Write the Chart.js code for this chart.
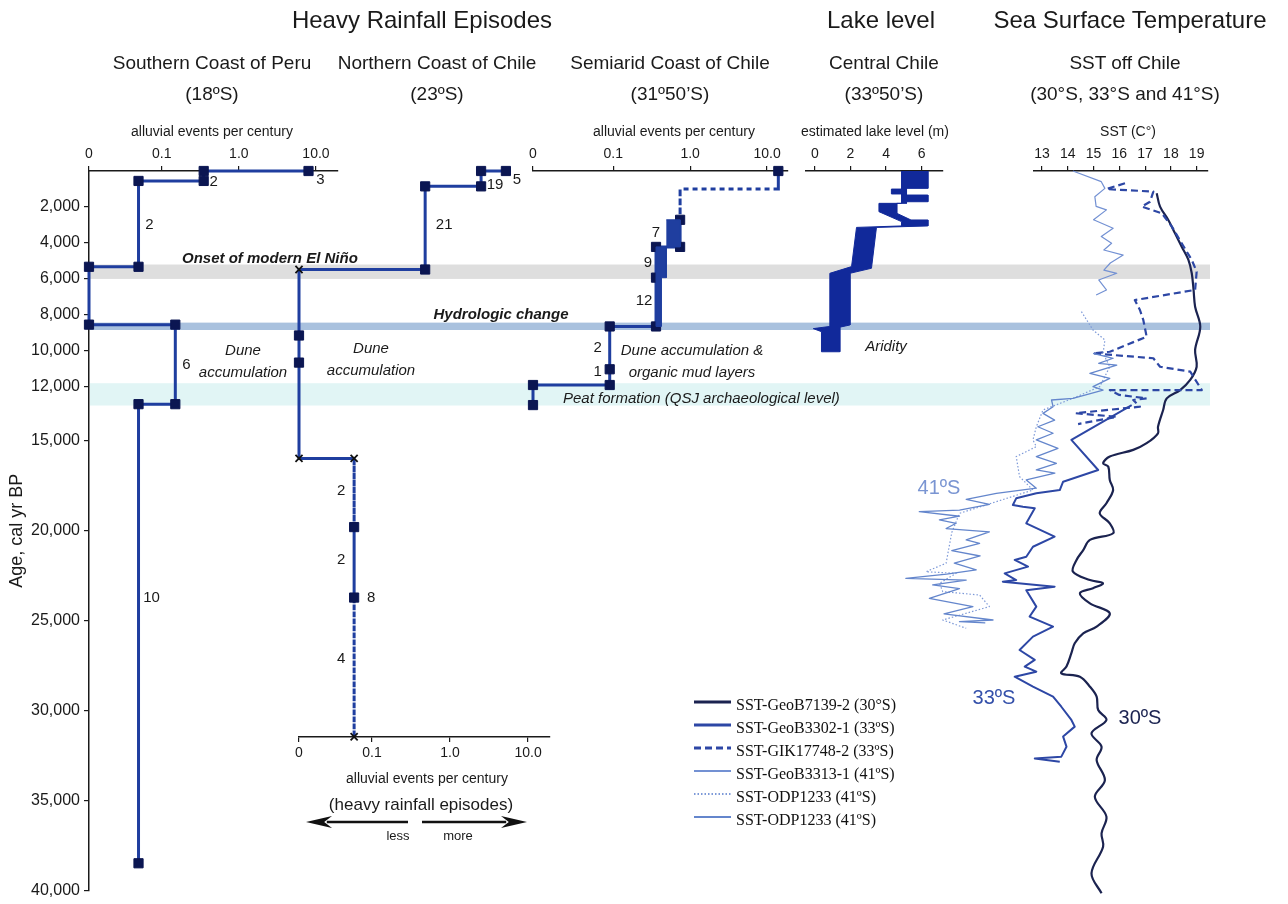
<!DOCTYPE html>
<html lang="en">
<head>
<meta charset="utf-8">
<title>Heavy rainfall episodes, lake level and SST off Chile</title>
<script src="https://cdn.jsdelivr.net/npm/chart.js@4.4.1/dist/chart.umd.min.js"></script>
<style>
  html, body { margin: 0; padding: 0; background: #fff; }
  #fig { position: relative; width: 1288px; height: 904px; overflow: hidden;
         font-family: "Liberation Sans", Arial, sans-serif; color: #1a1a1a; }
  #fig canvas { position: absolute; left: 0; top: 0; }
  #txt { position: absolute; left: 0; top: 0; width: 1288px; height: 904px; pointer-events: none; }
  #txt div { position: absolute; white-space: nowrap; transform: translate(-50%, -50%); line-height: 1; }
  #txt div.l { transform: translate(0, -50%); }
  .h1 { font-size: 24px; }
  .h2 { font-size: 19px; }
  .ax { font-size: 14px; }
  .it { font-size: 15px; font-style: italic; }
  .bi { font-size: 15px; font-style: italic; font-weight: bold; }
  .lat { font-size: 20px; }
</style>
</head>
<body>
<div id="fig">
  <canvas id="base" width="1288" height="904"></canvas>
  <canvas id="peru" width="1288" height="904"></canvas>
  <canvas id="nchile" width="1288" height="904"></canvas>
  <canvas id="semiarid" width="1288" height="904"></canvas>
  <canvas id="lake" width="1288" height="904"></canvas>
  <canvas id="sst" width="1288" height="904"></canvas>

  <div id="txt">
    <div class="h1" style="left:422px;top:20px">Heavy Rainfall Episodes</div>
    <div class="h1" style="left:881px;top:20px">Lake level</div>
    <div class="h1" style="left:1130px;top:20px">Sea Surface Temperature</div>

    <div class="h2" style="left:212px;top:62px">Southern Coast of Peru</div>
    <div class="h2" style="left:212px;top:93px">(18ºS)</div>
    <div class="h2" style="left:437px;top:62px">Northern Coast of Chile</div>
    <div class="h2" style="left:437px;top:93px">(23ºS)</div>
    <div class="h2" style="left:670px;top:62px">Semiarid Coast of Chile</div>
    <div class="h2" style="left:670px;top:93px">(31º50’S)</div>
    <div class="h2" style="left:884px;top:62px">Central Chile</div>
    <div class="h2" style="left:884px;top:93px">(33º50’S)</div>
    <div class="h2" style="left:1125px;top:62px">SST off Chile</div>
    <div class="h2" style="left:1125px;top:93px">(30°S, 33°S and 41°S)</div>

    <div class="ax" style="left:212px;top:131px">alluvial events per century</div>
    <div class="ax" style="left:674px;top:131px">alluvial events per century</div>
    <div class="ax" style="left:875px;top:131px">estimated lake level (m)</div>
    <div class="ax" style="left:1128px;top:131px">SST (C°)</div>
    <div class="ax" style="left:427px;top:778px">alluvial events per century</div>
    <div style="left:421px;top:804px;font-size:17px">(heavy rainfall episodes)</div>
    <div style="left:398px;top:835px;font-size:13px">less</div>
    <div style="left:458px;top:835px;font-size:13px">more</div>

    <div class="bi l" style="left:182px;top:257px">Onset of modern El Niño</div>
    <div class="bi" style="left:501px;top:313px">Hydrologic change</div>
    <div class="it" style="left:243px;top:349px">Dune</div>
    <div class="it" style="left:243px;top:371px">accumulation</div>
    <div class="it" style="left:371px;top:347px">Dune</div>
    <div class="it" style="left:371px;top:369px">accumulation</div>
    <div class="it" style="left:692px;top:349px">Dune accumulation &amp;</div>
    <div class="it" style="left:692px;top:371px">organic mud layers</div>
    <div class="it l" style="left:563px;top:397px">Peat formation (QSJ archaeological level)</div>
    <div class="it" style="left:886px;top:345px">Aridity</div>

    <div class="lat" style="left:939px;top:487px;color:#7a95d2">41ºS</div>
    <div class="lat" style="left:994px;top:697px;color:#3450aa">33ºS</div>
    <div class="lat" style="left:1140px;top:717px;color:#1b2350">30ºS</div>
  </div>
</div>

<script>
Chart.defaults.font.family = '"Liberation Sans", Arial, sans-serif';
Chart.defaults.color = '#1a1a1a';

const W = 1288, H = 904;
const PLOT_TOP = 171, PLOT_BOTTOM = 894;   // rows of 0 and 40,000 cal yr BP
const INK = '#1a1a1a';
const STEP_LINE = '#1f3e9f', STEP_MARK = '#0b1652';

// ---------------- shared age axis (cal yr BP) ----------------
const AGE_MIN = 0, AGE_MAX = 40000;
const AGE_TICKS = [2000, 4000, 6000, 8000, 10000, 12000, 15000, 20000, 25000, 30000, 35000, 40000];

// background bands: Onset of modern El Niño, Hydrologic change, Peat formation
const BAND_FROM = [5200, 8430, 11800];
const BAND_TO = [6000, 8840, 13040];
const BAND_COLORS = ['#dedede', '#a9c1de', '#e1f5f5'];

// ---------------- alluvial events per century (log axes) ----------------
const RATE_TICKS = [0, 0.1, 1, 10];
const RATE_TICK_LABELS = ['0', '0.1', '1.0', '10.0'];

// Southern Coast of Peru (18ºS)
const PERU_RATE = [8, 0.35, 0.35, 0.05, 0.05, 0, 0, 0.15, 0.15, 0.05, 0.05];
const PERU_AGE = [0, 0, 550, 550, 5300, 5300, 8500, 8500, 12900, 12900, 38300];
const PERU_MARK = ['s', 's', 's', 's', 's', 's', 's', 's', 's', 's', 's'];
const PERU_DASHED = [];
const PERU_NUM = ['3', '2', '2', '6', '10'];
const PERU_NUM_RATE = [8, 0.35, 0.05, 0.15, 0.05];
const PERU_NUM_AGE = [500, 600, 3000, 10700, 23600];
const PERU_NUM_DX = [12, 10, 11, 11, 13];

// Northern Coast of Chile (23ºS)
const NCH_RATE = [5.2, 2.5, 2.5, 0.48, 0.48, 0, 0, 0, 0, 0.059, 0.059, 0.059, 0.059];
const NCH_AGE = [0, 0, 850, 850, 5450, 5450, 9100, 10600, 15900, 15900, 19700, 23600, 31300];
const NCH_MARK = ['s', 's', 's', 's', 's', 'x', 's', 's', 'x', 'x', 's', 's', 'x'];
const NCH_DASHED = [9, 11];
const NCH_NUM = ['5', '19', '21', '2', '2', '8', '4'];
const NCH_NUM_RATE = [5.2, 2.5, 0.48, 0.059, 0.059, 0.059, 0.059];
const NCH_NUM_AGE = [500, 750, 3000, 17700, 21500, 23600, 27000];
const NCH_NUM_DX = [11, 14, 19, -13, -13, 17, -13];

// Semiarid Coast of Chile (31º50'S)
const SEM_RATE = [14, 14, 0.74, 0.74, 0.74, 0.36, 0.36, 0.36, 0.09, 0.09, 0.09, 0, 0];
const SEM_AGE = [0, 1000, 1000, 2700, 4200, 4200, 5900, 8600, 8600, 10970, 11840, 11840, 12950];
const SEM_MARK = ['s', '', '', 's', 's', 's', 's', 's', 's', 's', 's', 's', 's'];
const SEM_DASHED = [0, 1, 2];
const SEM_RANGE_RATE = [0.49, 0.74, 0.74, 0.49, 0.49, 0.42, 0.42, 0.36, 0.36, 0.49];
const SEM_RANGE_AGE = [2700, 2700, 4200, 4200, 5900, 5900, 8600, 8600, 4200, 4200];
const SEM_NUM = ['7', '9', '12', '2', '1'];
const SEM_NUM_RATE = [0.36, 0.36, 0.36, 0.09, 0.09];
const SEM_NUM_AGE = [3450, 5100, 7200, 9800, 11100];
const SEM_NUM_DX = [0, -8, -12, -12, -12];

// ---------------- Central Chile, estimated lake level (m), outline of the range ----------------
const LAKE_TICKS = [0, 2, 4, 6];
const LAKE_LEVEL = [6.35, 6.35, 5.15, 5.15, 6.35, 6.35, 5.15, 5.15, 4.6, 4.6, 5.4, 6.35, 6.35, 3.46, 3.18, 1.97,
  1.97, 1.4, 1.4, 0.37, 0.37, -0.09, 0.84, 0.84, 2.06, 2.34, 4.87, 4.87, 3.6, 3.6, 4.87, 4.87, 4.3, 4.3, 4.87, 4.87];
const LAKE_AGE = [0, 960, 960, 1330, 1330, 1700, 1700, 1790, 1790, 2340, 2710, 2710, 3040, 3120, 5380, 5660,
  8520, 8640, 10000, 10000, 8890, 8720, 8600, 5660, 5290, 3120, 3040, 2800, 2250, 1790, 1790, 1270, 1270, 1000, 1000, 0];

// ---------------- SST off Chile (°C) ----------------
const SST_TICKS = [13, 14, 15, 16, 17, 18, 19];

// SST-GeoB7139-2 (30°S)
const GEOB7139_AGE = [1230, 1970, 2710, 3450, 4190, 4920, 5660, 6580, 7510, 8610, 9900, 10830, 11560, 12120, 12580,
  13220, 14150, 14510, 15060, 15430, 15800, 16170, 16350, 17090, 17650, 18380, 18940, 19490, 20040, 20410, 20970,
  21520, 22170, 22630, 22810, 23080, 23360, 23920, 24470, 25210, 25580, 26130, 26680, 27420, 27790, 27980, 28530,
  29080, 29820, 30370, 31110, 31850, 32590, 33700, 34620, 35720, 36640, 37380, 38860, 39960];
const GEOB7139_SST = [17.45, 17.58, 17.9, 18.16, 18.42, 18.68, 18.81, 18.88, 18.94, 19.14, 18.94, 19.0, 18.75, 18.36,
  17.84, 17.7, 17.5, 17.5, 17.06, 16.54, 15.63, 15.37, 15.57, 15.63, 15.76, 15.5, 15.24, 15.63, 15.76, 14.86, 14.6,
  14.34, 14.2, 14.86, 15.37, 14.98, 14.47, 14.86, 15.63, 15.12, 14.6, 14.27, 14.14, 13.95, 13.75, 14.47, 14.86,
  15.12, 15.18, 15.5, 14.92, 15.31, 15.12, 15.44, 15.05, 15.5, 15.31, 15.37, 14.92, 15.31];

// SST-GeoB3302-1 (33ºS)
const GEOB3302_AGE = [12950, 14880, 16540, 17190, 17650, 17830, 18110, 18480, 18570, 18660, 19490, 20230, 20790,
  21340, 21520, 21890, 22260, 22630, 22720, 23000, 23190, 24100, 24650, 25210, 25760, 26500, 27050, 27420, 27700,
  27980, 28530, 29080, 29640, 30370, 30740, 31290, 31850, 32400, 32500, 32680];
const GEOB3302_SST = [16.48, 14.14, 15.18, 13.82, 13.69, 12.78, 12.0, 11.87, 12.26, 12.72, 12.39, 13.49, 12.65,
  12.39, 11.94, 12.46, 11.55, 12.0, 11.48, 13.49, 12.39, 12.78, 12.52, 13.43, 12.65, 12.13, 12.72, 12.33, 12.78,
  11.94, 12.65, 13.43, 13.75, 14.14, 14.27, 13.82, 13.95, 13.75, 12.72, 13.69];

// SST-GIK17748-2 (33ºS)
const GIK17748_AGE = [680, 1000, 1140, 1700, 1970, 2340, 3080, 4000, 4920, 5570, 6580, 7140, 7690, 8240, 9170,
  10000, 10090, 10360, 10830, 11100, 12120, 12120, 12390, 12580, 12670, 13040, 13400, 13600, 14000];
const GIK17748_SST = [16.22, 15.5, 17.32, 17.19, 16.87, 17.65, 18.04, 18.42, 18.81, 19.0, 18.94, 16.6, 16.8, 16.93,
  17.06, 15.63, 14.98, 17.32, 17.58, 18.75, 19.2, 15.63, 16.0, 17.06, 16.54, 16.8, 14.3, 15.9, 14.4];

// SST-GeoB3313-1 (41ºS)
const GEOB3313_AGE = [0, 590, 960, 1420, 1960, 2150, 2700, 3170, 3630, 4000, 4370, 4650, 5090, 5480, 5660, 6030, 6580, 6860];
const GEOB3313_SST = [14.2, 15.3, 15.44, 15.05, 15.1, 15.5, 15.0, 15.76, 15.3, 15.7, 15.4, 16.15, 15.65, 15.4, 15.9, 15.2, 15.5, 15.1];

// SST-ODP1233 (41ºS), dotted record
const ODP_DOT_AGE = [7780, 8800, 9350, 10090, 10830, 11930, 12580, 13220, 14150, 14880, 15250, 15800, 16910, 17280,
  17650, 18940, 20000, 21700, 22170, 22260, 22810, 23270, 23460, 24100, 24840, 25300];
const ODP_DOT_SST = [14.53, 14.98, 15.44, 15.37, 15.63, 15.24, 14.2, 13.04, 12.78, 12.65, 12.78, 12.0, 12.13, 12.39,
  12.65, 9.8, 9.5, 9.28, 8.5, 9.67, 9.02, 9.15, 10.58, 10.96, 9.15, 10.06];

// SST-ODP1233 (41ºS), solid record
const ODP_AGE = [10090, 10360, 10640, 10740, 11200, 11470, 11930, 12120, 12580, 12670, 13040, 13410, 13780, 14150,
  14510, 14880, 15340, 15800, 16170, 16540, 16720, 17090, 17550, 17830, 18170, 18450, 18760, 18850, 19100, 19300,
  19490, 19780, 19960, 20410, 20600, 21000, 21300, 21700, 22070, 22300, 22540, 22630, 22900, 23100, 23640, 24100,
  24500, 24840, 24930, 25000];
const ODP_SST = [14.98, 15.76, 15.2, 15.9, 14.86, 15.63, 14.98, 15.37, 14.2, 13.37, 13.43, 13.04, 13.49, 12.84,
  13.43, 12.78, 13.62, 12.78, 13.56, 12.78, 13.5, 12.39, 12.78, 11.23, 10.06, 10.96, 9.8, 8.24, 9.8, 9.02, 9.67,
  9.28, 10.96, 10.06, 10.58, 9.5, 10.6, 9.6, 10.45, 9.3, 7.72, 10.06, 8.76, 9.8, 8.63, 10.32, 9.2, 11.1, 9.8, 10.8];

// ---------------- plugins ----------------
const bandsPlugin = {
  id: 'bands',
  beforeDatasetsDraw(chart) {
    const { ctx, chartArea: a, scales: { y } } = chart;
    ctx.save();
    BAND_FROM.forEach((from, i) => {
      const y0 = y.getPixelForValue(from), y1 = y.getPixelForValue(BAND_TO[i]);
      ctx.fillStyle = BAND_COLORS[i];
      ctx.fillRect(a.left + 1, y0, a.right - a.left - 1, y1 - y0);
    });
    ctx.restore();
  }
};

// less / more arrows under the Northern Chile axis
function arrow(ctx, x0, x1, y) {
  const dir = Math.sign(x1 - x0), head = 26;
  ctx.lineWidth = 2.5;
  ctx.beginPath(); ctx.moveTo(x0, y); ctx.lineTo(x1 - dir * head * 0.8, y); ctx.stroke();
  ctx.beginPath();
  ctx.moveTo(x1, y);
  ctx.lineTo(x1 - dir * head, y - 6);
  ctx.lineTo(x1 - dir * head * 0.7, y);
  ctx.lineTo(x1 - dir * head, y + 6);
  ctx.closePath(); ctx.fill();
}
const arrowsPlugin = {
  id: 'arrows',
  afterDraw(chart) {
    const ctx = chart.ctx;
    ctx.save();
    ctx.strokeStyle = '#111'; ctx.fillStyle = '#111';
    arrow(ctx, 408, 306, 822);
    arrow(ctx, 422, 527, 822);
    ctx.restore();
  }
};

function numberLabels(text, rate, age, dx, zero) {
  return {
    id: 'numLabels',
    afterDatasetsDraw(chart) {
      const { ctx, scales: { x, y } } = chart;
      ctx.save();
      ctx.font = '15px "Liberation Sans", Arial, sans-serif';
      ctx.fillStyle = INK;
      ctx.textAlign = 'center';
      ctx.textBaseline = 'middle';
      text.forEach((t, i) => {
        ctx.fillText(t, x.getPixelForValue(rate[i] === 0 ? zero : rate[i]) + dx[i], y.getPixelForValue(age[i]));
      });
      ctx.restore();
    }
  };
}

// ---------------- helpers ----------------
function ageAxis(max) {
  return { type: 'linear', min: AGE_MIN, max: max, reverse: true, display: false };
}

function tickAxisCommon() {
  return {
    grid: { drawOnChartArea: false, tickLength: 5, color: INK, lineWidth: 1.2 },
    border: { color: INK, width: 1.5 }
  };
}

function logAxis(zero, max, position) {
  return Object.assign(tickAxisCommon(), {
    type: 'logarithmic', position, min: zero, max,
    afterBuildTicks: s => { s.ticks = RATE_TICKS.map(v => ({ value: v === 0 ? zero : v })); },
    afterFit: s => { s.height = 30; },
    ticks: { callback: (v, i) => RATE_TICK_LABELS[i], font: { size: 14 }, padding: 3, color: INK, maxRotation: 0, autoSkip: false }
  });
}

function linAxis(min, max, ticks) {
  return Object.assign(tickAxisCommon(), {
    type: 'linear', position: 'top', min, max,
    afterBuildTicks: s => { s.ticks = ticks.map(v => ({ value: v })); },
    afterFit: s => { s.height = 30; },
    ticks: { font: { size: 14 }, padding: 3, color: INK, maxRotation: 0, autoSkip: false }
  });
}

function panelOptions(left, right, top, bottom, xAxis, yMax) {
  return {
    responsive: false, animation: false,
    layout: { padding: { left, right: W - right, top, bottom } },
    plugins: { legend: { display: false }, tooltip: { enabled: false } },
    scales: { x: xAxis, y: ageAxis(yMax) }
  };
}

function stepLine(rate, age, mark, dashed, zero, dash) {
  return {
    data: rate.map((r, i) => ({ x: r === 0 ? zero : r, y: age[i] })),
    showLine: true, clip: false,
    borderColor: STEP_LINE, borderWidth: 3, borderJoinStyle: 'miter',
    pointStyle: mark.map(m => (m === 'x' ? 'crossRot' : 'rect')),
    pointRadius: mark.map(m => (m === 's' ? 6.5 : m === 'x' ? 5 : 0)),
    pointBackgroundColor: STEP_MARK,
    pointBorderColor: mark.map(m => (m === 'x' ? '#111' : STEP_MARK)),
    pointBorderWidth: mark.map(m => (m === 'x' ? 1.8 : 1)),
    segment: { borderDash: c => (dashed.includes(c.p0DataIndex) ? dash : undefined) }
  };
}

function shape(xs, ys, color) {
  return {
    data: xs.map((v, i) => ({ x: v, y: ys[i] })),
    showLine: true, fill: 'shape', clip: false,
    backgroundColor: color, borderColor: color, borderWidth: 1, pointRadius: 0
  };
}

function sstLine(label, age, temp, color, width, dash, tension) {
  return {
    label, data: age.map((a, i) => ({ x: temp[i], y: a })),
    showLine: true, clip: false, borderColor: color, borderWidth: width, borderDash: dash,
    tension, pointRadius: 0, borderJoinStyle: 'round'
  };
}

// ---------------- base: age axis and bands ----------------
new Chart(document.getElementById('base'), {
  type: 'scatter',
  data: { datasets: [] },
  options: {
    responsive: false, animation: false,
    layout: { padding: { left: 0, right: W - 1210, top: PLOT_TOP, bottom: H - PLOT_BOTTOM } },
    plugins: { legend: { display: false }, tooltip: { enabled: false } },
    scales: {
      x: { display: false, min: 0, max: 1 },
      y: Object.assign(tickAxisCommon(), {
        min: AGE_MIN, max: AGE_MAX, reverse: true,
        afterFit: s => { s.width = 89; },
        afterBuildTicks: s => { s.ticks = AGE_TICKS.map(v => ({ value: v })); },
        ticks: { font: { size: 16 }, padding: 4, color: INK, callback: v => v.toLocaleString('en-US') },
        title: { display: true, text: 'Age, cal yr BP', font: { size: 18 }, color: INK, padding: { top: 6, bottom: 0 } }
      })
    }
  },
  plugins: [bandsPlugin, arrowsPlugin]
});

// ---------------- Southern Coast of Peru ----------------
const PERU_ZERO = 0.0114;
new Chart(document.getElementById('peru'), {
  type: 'scatter',
  data: { datasets: [stepLine(PERU_RATE, PERU_AGE, PERU_MARK, PERU_DASHED, PERU_ZERO, [4, 3])] },
  options: panelOptions(89, 338, PLOT_TOP - 30, H - PLOT_BOTTOM, logAxis(PERU_ZERO, 19.3, 'top'), AGE_MAX),
  plugins: [numberLabels(PERU_NUM, PERU_NUM_RATE, PERU_NUM_AGE, PERU_NUM_DX, PERU_ZERO)]
});

// ---------------- Northern Coast of Chile (axis at the bottom) ----------------
const NCH_ZERO = 0.0116;
const NCH_AXIS_ROW = 737;
const NCH_AGE_MAX = AGE_MAX * (NCH_AXIS_ROW - PLOT_TOP) / (PLOT_BOTTOM - PLOT_TOP);
new Chart(document.getElementById('nchile'), {
  type: 'scatter',
  data: { datasets: [stepLine(NCH_RATE, NCH_AGE, NCH_MARK, NCH_DASHED, NCH_ZERO, [4, 3])] },
  options: panelOptions(299, 550, PLOT_TOP, H - NCH_AXIS_ROW - 30, logAxis(NCH_ZERO, 19.1, 'bottom'), NCH_AGE_MAX),
  plugins: [numberLabels(NCH_NUM, NCH_NUM_RATE, NCH_NUM_AGE, NCH_NUM_DX, NCH_ZERO)]
});

// ---------------- Semiarid Coast of Chile ----------------
const SEM_ZERO = 0.00906;
new Chart(document.getElementById('semiarid'), {
  type: 'scatter',
  data: {
    datasets: [
      shape(SEM_RANGE_RATE, SEM_RANGE_AGE, STEP_LINE),
      stepLine(SEM_RATE, SEM_AGE, SEM_MARK, SEM_DASHED, SEM_ZERO, [5, 4])
    ]
  },
  options: panelOptions(533, 788, PLOT_TOP - 30, H - PLOT_BOTTOM, logAxis(SEM_ZERO, 18.7, 'top'), AGE_MAX),
  plugins: [numberLabels(SEM_NUM, SEM_NUM_RATE, SEM_NUM_AGE, SEM_NUM_DX, SEM_ZERO)]
});

// ---------------- Central Chile lake level ----------------
new Chart(document.getElementById('lake'), {
  type: 'scatter',
  data: { datasets: [shape(LAKE_LEVEL, LAKE_AGE, '#11299a')] },
  options: panelOptions(806, 943, PLOT_TOP - 30, H - PLOT_BOTTOM, linAxis(-0.5, 7.2, LAKE_TICKS), AGE_MAX)
});

// ---------------- SST off Chile ----------------
const LEGEND_ORDER = [5, 4, 3, 2, 1, 0];
const sstLegend = {
  id: 'sstLegend',
  afterDatasetsDraw(chart) {
    const ctx = chart.ctx;
    ctx.save();
    ctx.font = '16px "Liberation Serif", "Times New Roman", serif';
    ctx.textBaseline = 'middle';
    ctx.fillStyle = '#111';
    LEGEND_ORDER.forEach((di, r) => {
      const ds = chart.data.datasets[di];
      const y = 702 + r * 23;
      ctx.strokeStyle = ds.borderColor;
      ctx.lineWidth = ds.borderWidth + 0.8;
      ctx.setLineDash(ds.borderDash || []);
      ctx.beginPath(); ctx.moveTo(694, y); ctx.lineTo(731, y); ctx.stroke();
      ctx.setLineDash([]);
      ctx.fillText(ds.label, 736, y + 4);
    });
    ctx.restore();
  }
};

new Chart(document.getElementById('sst'), {
  type: 'scatter',
  data: {
    datasets: [
      sstLine('SST-ODP1233 (41ºS)', ODP_AGE, ODP_SST, '#6486cc', 1.3, [], 0),
      sstLine('SST-ODP1233 (41ºS)', ODP_DOT_AGE, ODP_DOT_SST, '#7d99d8', 1.2, [1.5, 2], 0),
      sstLine('SST-GeoB3313-1 (41ºS)', GEOB3313_AGE, GEOB3313_SST, '#7391d3', 1.2, [], 0),
      sstLine('SST-GIK17748-2 (33ºS)', GIK17748_AGE, GIK17748_SST, '#2d47a5', 2.2, [7, 4], 0),
      sstLine('SST-GeoB3302-1 (33ºS)', GEOB3302_AGE, GEOB3302_SST, '#2d47a5', 2, [], 0),
      sstLine('SST-GeoB7139-2 (30°S)', GEOB7139_AGE, GEOB7139_SST, '#1b2350', 2.2, [], 0.35)
    ]
  },
  options: panelOptions(1034, 1208, PLOT_TOP - 30, H - PLOT_BOTTOM, linAxis(12.69, 19.44, SST_TICKS), AGE_MAX),
  plugins: [sstLegend]
});
</script>
</body>
</html>
